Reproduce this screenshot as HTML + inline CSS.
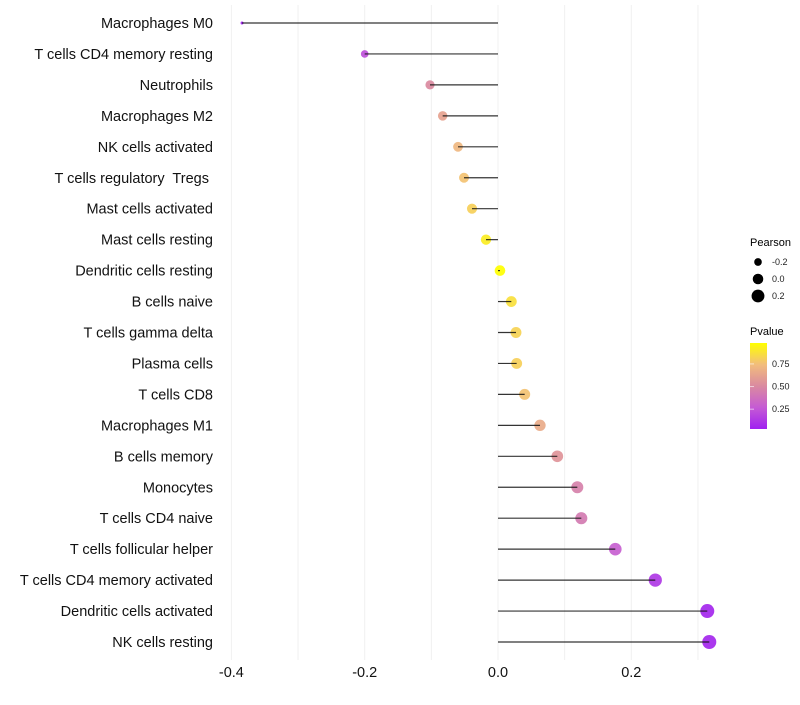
<!DOCTYPE html>
<html><head><meta charset="utf-8"><style>
body{margin:0;background:#fff;font-family:"Liberation Sans",Arial,sans-serif}
svg text{font-family:"Liberation Sans",Arial,sans-serif;white-space:pre}
</style></head><body>
<svg id="chart" width="800" height="700" xmlns="http://www.w3.org/2000/svg">
<defs><linearGradient id="pg" x1="0" y1="1" x2="0" y2="0">
<stop offset="0" stop-color="#a020f0"/><stop offset="0.25" stop-color="#c55bd4"/><stop offset="0.5" stop-color="#da8aa0"/><stop offset="0.75" stop-color="#f2bd7c"/><stop offset="1" stop-color="#ffff00"/></linearGradient></defs>
<g id="grid"></g>
<g id="marks"></g>
<g id="ylab"></g>
<g id="xlab"></g>
<g>
<text x="750" y="246" font-size="11">Pearson</text>
<g id="sizeleg"></g>
</g>
<g>
<text x="750" y="335" font-size="11">Pvalue</text>
<rect x="750" y="343" width="17" height="86" fill="url(#pg)"/>
<g id="colleg"></g>
</g>
</svg>
<script>
const categories=["Macrophages M0","T cells CD4 memory resting","Neutrophils","Macrophages M2","NK cells activated","T cells regulatory  Tregs ","Mast cells activated","Mast cells resting","Dendritic cells resting","B cells naive","T cells gamma delta","Plasma cells","T cells CD8","Macrophages M1","B cells memory","Monocytes","T cells CD4 naive","T cells follicular helper","T cells CD4 memory activated","Dendritic cells activated","NK cells resting"];
const pearson=[-0.384,-0.200,-0.102,-0.083,-0.060,-0.051,-0.039,-0.018,0.003,0.020,0.027,0.028,0.040,0.063,0.089,0.119,0.125,0.176,0.236,0.314,0.317];
const pvalues=[0.0,0.2,0.5,0.62,0.72,0.77,0.82,0.93,1.0,0.88,0.83,0.82,0.77,0.66,0.55,0.45,0.42,0.27,0.1,0.03,0.03];
const xTicks=[-0.4,-0.2,0.0,0.2];
const xTickLabels=["-0.4","-0.2","0.0","0.2"];
const sizeLegendValues=[-0.2,0.0,0.2];
const colorLegendValues=[0.25,0.5,0.75];
const NS="http://www.w3.org/2000/svg";
const xs=v=>498+v*666.5;
const ys=i=>23+i*30.95;
const rs=v=>Math.sqrt(Math.max(0.5,27.9+66.7*v));
const stops=[[0,[160,32,240]],[0.25,[197,91,212]],[0.5,[218,138,160]],[0.75,[242,189,124]],[1,[255,255,0]]];
function col(p){for(let i=1;i<stops.length;i++){if(p<=stops[i][0]){const a=stops[i-1],b=stops[i],t=(p-a[0])/(b[0]-a[0]);return "rgb("+a[1].map((c,k)=>Math.round(c+(b[1][k]-c)*t)).join(",")+")";}}return "rgb(255,255,0)";}
function mk(tag,attrs,parent){const e=document.createElementNS(NS,tag);for(const k in attrs)e.setAttribute(k,attrs[k]);parent.appendChild(e);return e;}
const grid=document.getElementById('grid');
for(let v=-0.4;v<=0.31;v+=0.1){const g=mk('line',{x1:xs(v),x2:xs(v),y1:5,y2:660,stroke:'#f0f0f0','stroke-width':1},grid);

}
const marks=document.getElementById('marks'),ylab=document.getElementById('ylab');
categories.forEach((c,i)=>{
const y=ys(i);
const pt=mk('circle',{cx:xs(pearson[i]),cy:y,r:rs(pearson[i]),fill:col(pvalues[i]),'fill-opacity':0.92},marks);


const ln=mk('line',{x1:xs(0),x2:xs(pearson[i]),y1:y,y2:y,stroke:'#111','stroke-width':1.2,'stroke-opacity':0.85},marks);


const t=mk('text',{x:213,y:y+5,'text-anchor':'end','font-size':14.5,fill:'#111'},ylab);t.textContent=c;


});
const xlab=document.getElementById('xlab');
xTicks.forEach((v,i)=>{const t=mk('text',{x:xs(v),y:677,'text-anchor':'middle','font-size':14.5,fill:'#111'},xlab);t.textContent=xTickLabels[i];

});
const sl=document.getElementById('sizeleg');
sizeLegendValues.forEach((v,i)=>{const y=262+i*17;
const c=mk('circle',{cx:758,cy:y,r:rs(v),fill:'#000'},sl);


const t=mk('text',{x:772,y:y+3,'font-size':9,fill:'#222'},sl);t.textContent=v.toFixed(1);

});
const cl=document.getElementById('colleg');
colorLegendValues.forEach(v=>{const y=430-(v-0.02)/0.95*86;
const l=mk('line',{x1:750,x2:754,y1:y,y2:y,stroke:'#fff','stroke-opacity':0.6},cl);


const t=mk('text',{x:772,y:y+3,'font-size':9,fill:'#222'},cl);t.textContent=v.toFixed(2);

});
</script>
</body></html>
